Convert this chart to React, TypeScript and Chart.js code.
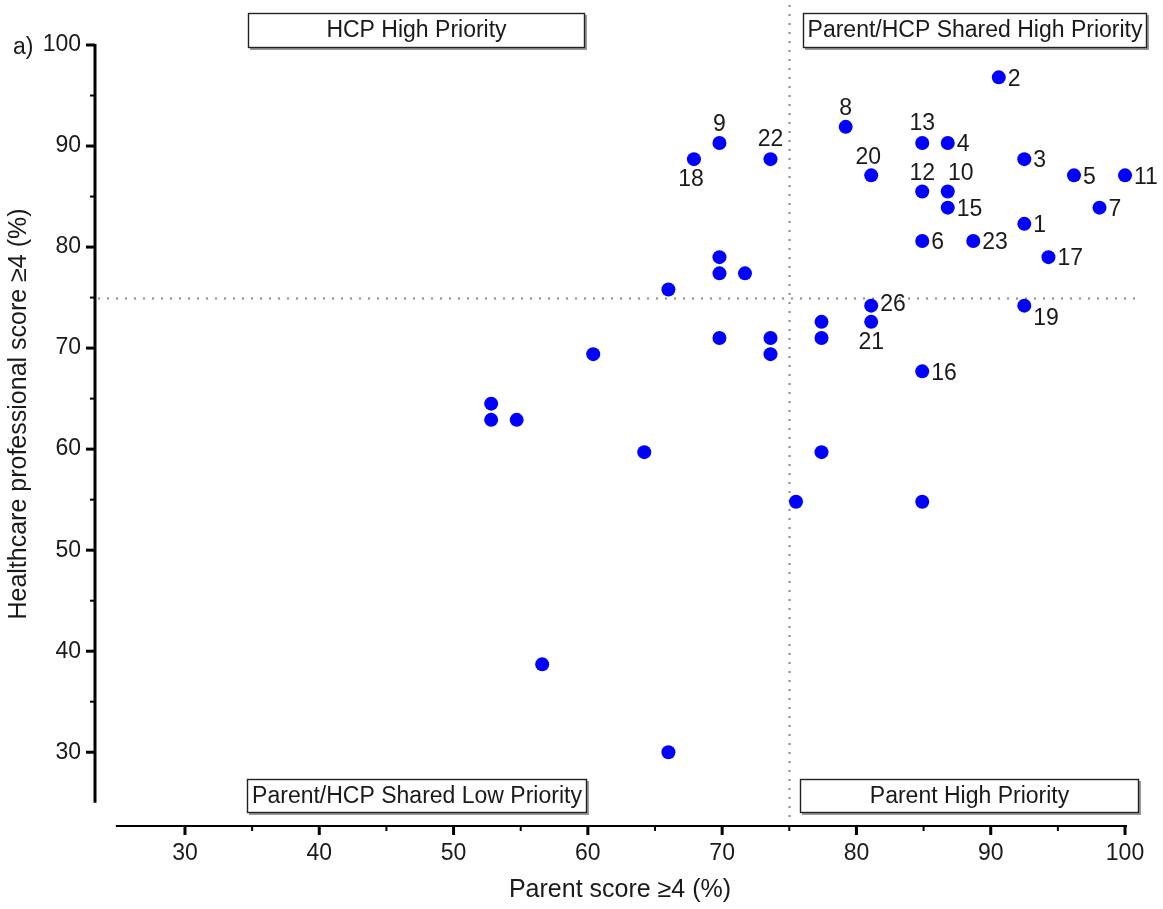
import React, { useEffect, useRef } from 'react';
import { Chart, registerables } from 'chart.js';

Chart.register(...registerables);

// ---- data ----
const pointLabels = [
  '1', '2', '3', '4', '5', '6', '7', '8', '9', '10', '11', '12', '13', '15', '16', '17', '18', '19', '20', '21', '22', '23', '26',
  '', '', '', '', '', '', '', '', '', '', '', '', '', '', '', '', '', '', '',
];
const parentScores = [
  92.5, 90.6, 92.5, 86.8, 96.2, 84.9, 98.1, 79.2, 69.8, 86.8, 100, 84.9, 84.9, 86.8, 84.9, 94.3, 67.9, 92.5, 81.1, 81.1, 73.6, 88.7, 81.1,
  69.8, 69.8, 71.7, 66.0, 77.4, 77.4, 69.8, 73.6, 73.6, 60.4, 52.8, 52.8, 54.7, 64.2, 77.4, 75.5, 84.9, 56.6, 66.0,
];
const hcpScores = [
  82.3, 96.8, 88.7, 90.3, 87.1, 80.6, 83.9, 91.9, 90.3, 85.5, 87.1, 85.5, 90.3, 83.9, 67.7, 79.0, 88.7, 74.2, 87.1, 72.6, 88.7, 80.6, 74.2,
  79.0, 77.4, 77.4, 75.8, 72.6, 71.0, 71.0, 71.0, 69.4, 69.4, 64.5, 62.9, 62.9, 59.7, 59.7, 54.8, 54.8, 38.7, 30.0,
];
const quadrantLabels = ['HCP High Priority', 'Parent/HCP Shared High Priority', 'Parent/HCP Shared Low Priority', 'Parent High Priority'];
const thresholdParent = 75;
const thresholdHcp = 75;
const xTitle = 'Parent score \u22654 (%)';
const yTitle = 'Healthcare professional score \u22654 (%)';
const panelLabel = 'a)';

// ---- layout / style ----
const FONT = '"Liberation Sans", Arial, Helvetica, sans-serif';
const TEXT = '#1a1a1a';
const boxRects = [
  [248, 13, 585, 48],
  [803, 13, 1147, 48],
  [247, 779, 587, 813],
  [800, 779, 1139, 813],
];
// dx, dy, align
const placement: Record<string, [number, number, CanvasTextAlign]> = {
  '1': [9, 0, 'left'], '2': [9, 0, 'left'], '3': [9, 0, 'left'], '4': [9, 0, 'left'], '5': [9, 0, 'left'],
  '6': [9, 0, 'left'], '7': [9, 0, 'left'], '11': [9, 0, 'left'], '15': [9, 0, 'left'], '16': [9, 0, 'left'],
  '17': [9, 0, 'left'], '23': [9, 0, 'left'], '26': [9, -3, 'left'], '19': [9, 11, 'left'],
  '8': [0, -20, 'center'], '9': [0, -20, 'center'], '12': [0, -20, 'center'], '13': [0, -21, 'center'],
  '22': [0, -21, 'center'], '20': [-3, -20, 'center'], '10': [13, -20, 'center'],
  '18': [-3, 19, 'center'], '21': [0, 19, 'center'],
};

const decor = {
  id: 'decor',
  beforeDatasetsDraw(chart: any) {
    const { ctx, scales } = chart;
    const xs = scales.x, ys = scales.y;
    ctx.save();
    ctx.strokeStyle = '#8a8a8a';
    ctx.lineWidth = 2;
    ctx.setLineDash([2, 7]);
    const vx = Math.round(xs.getPixelForValue(thresholdParent)) + 0.5;
    ctx.beginPath();
    ctx.moveTo(vx, 5);
    ctx.lineTo(vx, 818);
    ctx.stroke();
    const hy = Math.round(ys.getPixelForValue(thresholdHcp)) + 0.5;
    ctx.beginPath();
    ctx.moveTo(98, hy);
    ctx.lineTo(1141, hy);
    ctx.stroke();
    ctx.restore();
  },
  afterDatasetsDraw(chart: any) {
    const { ctx, scales, chartArea } = chart;
    const xs = scales.x, ys = scales.y;
    ctx.save();
    // y axis
    ctx.strokeStyle = '#000';
    ctx.lineWidth = 3;
    const ax = chartArea.left;
    ctx.beginPath();
    ctx.moveTo(ax, ys.getPixelForValue(100) - 1);
    ctx.lineTo(ax, ys.getPixelForValue(25));
    ctx.stroke();
    ys.ticks.forEach((t: any) => {
      const v = t.value;
      if (v < 30 || v > 100) return;
      const major = v % 10 === 0;
      const py = ys.getPixelForValue(v);
      ctx.lineWidth = major ? 3 : 2;
      ctx.beginPath();
      ctx.moveTo(ax, py);
      ctx.lineTo(ax - (major ? 9 : 5), py);
      ctx.stroke();
    });
    // x axis
    const ay = chartArea.bottom;
    ctx.lineWidth = 2;
    ctx.beginPath();
    ctx.moveTo(xs.getPixelForValue(25) - 2, ay);
    ctx.lineTo(xs.getPixelForValue(100) + 2, ay);
    ctx.stroke();
    xs.ticks.forEach((t: any) => {
      const v = t.value;
      if (v < 30 || v > 100) return;
      const major = v % 10 === 0;
      const px = xs.getPixelForValue(v);
      ctx.lineWidth = major ? 3 : 2;
      ctx.beginPath();
      ctx.moveTo(px, ay);
      ctx.lineTo(px, ay + (major ? 9 : 5));
      ctx.stroke();
    });

    // point labels
    const meta = chart.getDatasetMeta(0);
    ctx.fillStyle = TEXT;
    ctx.font = `23px ${FONT}`;
    ctx.textBaseline = 'alphabetic';
    meta.data.forEach((el: any, i: number) => {
      const lab = pointLabels[i];
      if (!lab) return;
      const p = placement[lab] || [9, 0, 'left'];
      ctx.textAlign = p[2];
      ctx.fillText(lab, el.x + p[0], el.y + p[1] + 8.2);
    });

    // quadrant boxes
    boxRects.forEach((r, i) => {
      const [x1, y1, x2, y2] = r;
      ctx.fillStyle = '#fff';
      ctx.fillRect(x1, y1, x2 - x1, y2 - y1);
      ctx.strokeStyle = '#999';
      ctx.lineWidth = 2;
      ctx.beginPath();
      ctx.moveTo(x1 + 2, y2 + 1);
      ctx.lineTo(x2 + 1, y2 + 1);
      ctx.lineTo(x2 + 1, y1 + 2);
      ctx.stroke();
      ctx.strokeStyle = '#222';
      ctx.lineWidth = 1.4;
      ctx.strokeRect(x1 + 0.5, y1 + 0.5, x2 - x1 - 1, y2 - y1 - 1);
      ctx.fillStyle = TEXT;
      ctx.font = `23px ${FONT}`;
      ctx.textAlign = 'center';
      ctx.textBaseline = 'alphabetic';
      ctx.fillText(quadrantLabels[i], (x1 + x2) / 2, y1 + 23.5);
    });

    // axis titles
    ctx.fillStyle = TEXT;
    ctx.font = `25px ${FONT}`;
    ctx.textAlign = 'center';
    ctx.textBaseline = 'alphabetic';
    ctx.fillText(xTitle, 620, 897);
    ctx.save();
    ctx.translate(26, 414);
    ctx.rotate(-Math.PI / 2);
    ctx.fillText(yTitle, 0, 0);
    ctx.restore();

    // panel label
    ctx.font = `23px ${FONT}`;
    ctx.textAlign = 'left';
    ctx.fillText(panelLabel, 13, 54);
    ctx.restore();
  },
};

export default function App() {
  const ref = useRef<HTMLCanvasElement | null>(null);
  useEffect(() => {
    if (!ref.current) return;
    const data = parentScores.map((x, i) => ({ x, y: hcpScores[i] }));
    const tickCb = (v: any) => {
      const n = Number(v);
      return n >= 30 && n % 10 === 0 ? String(n) : '';
    };
    const chart = new Chart(ref.current, {
      type: 'scatter',
      data: {
        datasets: [
          {
            data,
            pointRadius: 7,
            pointHoverRadius: 7,
            backgroundColor: '#0000ff',
            borderWidth: 0,
            pointBorderWidth: 0,
          },
        ],
      },
      options: {
        responsive: false,
        animation: false,
        events: [],
        layout: { padding: { left: 0, right: 22, top: 45, bottom: 0 } },
        plugins: { legend: { display: false }, tooltip: { enabled: false } },
        scales: {
          x: {
            type: 'linear',
            min: 23.3,
            max: 101.19,
            grid: { display: false },
            border: { display: false },
            ticks: {
              stepSize: 5,
              maxTicksLimit: 100,
              includeBounds: false,
              autoSkip: false,
              maxRotation: 0,
              padding: 6,
              color: TEXT,
              font: { family: FONT, size: 23 },
              callback: tickCb,
            },
            afterFit: (s: any) => { s.height = 83; },
          },
          y: {
            type: 'linear',
            min: 22.7,
            max: 100,
            grid: { display: false },
            border: { display: false },
            ticks: {
              stepSize: 5,
              maxTicksLimit: 100,
              includeBounds: false,
              autoSkip: false,
              padding: 6,
              color: TEXT,
              font: { family: FONT, size: 23 },
              callback: tickCb,
            },
            afterFit: (s: any) => { s.width = 95; },
          },
        },
      },
      plugins: [decor],
    });
    return () => chart.destroy();
  }, []);
  return (
    <div style={{ position: 'absolute', left: 0, top: 0, width: 1163, height: 909, background: '#fff' }}>
      <canvas ref={ref} width={1163} height={909} style={{ display: 'block' }} />
    </div>
  );
}
